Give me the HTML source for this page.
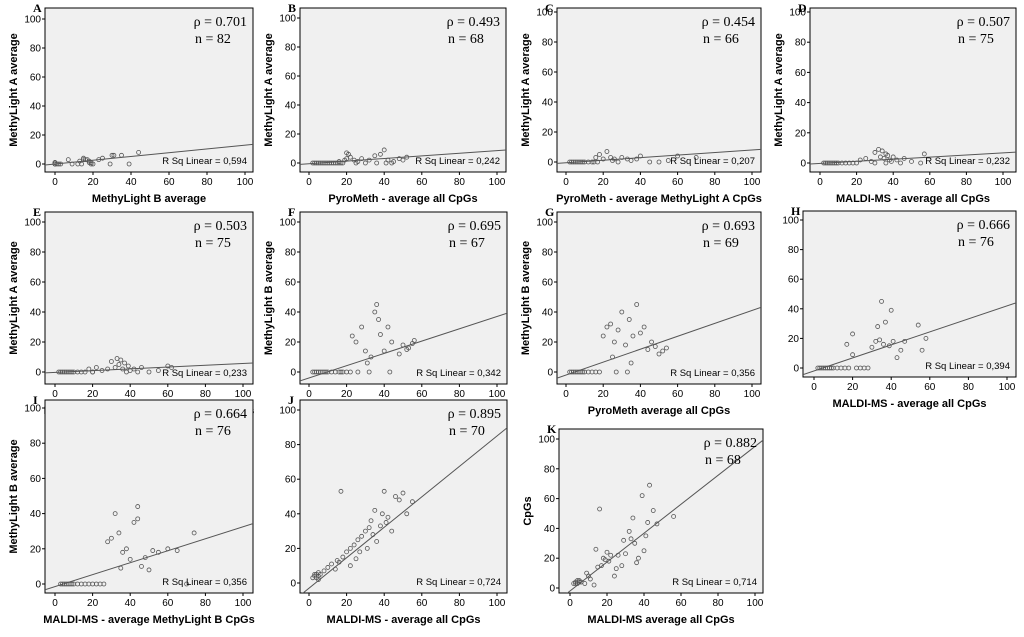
<!DOCTYPE html>
<html><head><meta charset="utf-8">
<style>
body{margin:0;background:#fff;width:1024px;height:632px;overflow:hidden}
svg text{font-family:"Liberation Sans",Arial,sans-serif}
.ser{font-family:"Liberation Serif",serif}
</style></head><body>
<svg id="fig" width="1024" height="632" viewBox="0 0 1024 632"></svg>
<script>
// Panel metadata
const panelLetters=["A","B","C","D","E","F","G","H","I","J","K"];
const rhoValues=["0.701","0.493","0.454","0.507","0.503","0.695","0.693","0.666","0.664","0.895","0.882"];
const nValues=[82,68,66,75,75,67,69,76,76,70,68];
const rsqValues=["0,594","0,242","0,207","0,232","0,233","0,342","0,356","0,394","0,356","0,724","0,714"];
const xLabels=["MethyLight B average","PyroMeth - average all CpGs","PyroMeth - average MethyLight A CpGs","MALDI-MS - average all CpGs","MALDI-MS - average MethyLight A CpGs","PyroMeth - average MethyLight B CpGs","PyroMeth average all CpGs","MALDI-MS - average all CpGs","MALDI-MS - average MethyLight B CpGs","MALDI-MS - average all CpGs","MALDI-MS average all CpGs"];
const yLabels=["MethyLight A average","MethyLight A average","MethyLight A average","MethyLight A average","MethyLight A average","MethyLight B average","MethyLight B average","","MethyLight B average","","CpGs"];
const slopes=[0.13,0.09,0.085,0.07,0.06,0.41,0.43,0.44,0.34,0.88,0.97];
const intercepts=[0,-0.5,-0.5,-0.3,-0.3,-4,-2,-2,-1.5,-3,-2];
const ticks=[0,20,40,60,80,100];
// point data per panel
const xA=[0,0,0,0,2,3,7,9,12,13,14,15,16,17,18,19,20,19,23,25,29,30,31,35,39,44,18,15,0,1];
const yA=[0,0,1,0,0,0,3,0,0,2,0,4,3,3,2,0,0,1,3,4,0,6,6,6,0,8,1,3,1,0];
const xB=[2,3,4,5,6,7,8,9,10,11,12,13,14,15,16,17,18,19,20,21,22,24,26,28,30,32,35,38,40,42,45,48,50,52,20,25,16,36,41,44];
const yB=[0,0,0,0,0,0,0,0,0,0,0,0,0,0,0,0,0,2,3,6,4,2,1,3,0,2,5,6,9,2,1,3,2,4,7,0,1,0,0,0];
const xC=[2,3,4,5,6,7,8,9,10,12,14,15,16,18,20,22,24,26,28,30,35,38,40,45,50,55,60,70,17,25,33];
const yC=[0,0,0,0,0,0,0,0,0,0,0,0,3,5,2,7,3,2,0,3,1,2,4,0,0,1,4,3,0,1,2];
const xD=[2,3,4,5,6,7,8,9,10,12,14,16,18,20,22,25,28,30,32,33,34,35,36,37,38,39,40,42,44,46,50,55,57,30,36];
const yD=[0,0,0,0,0,0,0,0,0,0,0,0,0,0,2,3,1,7,9,4,8,3,6,5,2,1,4,2,0,3,1,0,6,0,0];
const xE=[2,3,4,5,6,7,8,9,10,12,14,16,18,20,22,25,28,30,32,33,34,35,36,37,38,39,40,42,44,46,50,55,60,62,20];
const yE=[0,0,0,0,0,0,0,0,0,0,0,0,2,0,3,1,2,7,3,9,5,8,2,6,0,4,1,2,0,3,0,1,4,3,0];
const xF=[2,3,4,5,6,7,8,9,10,12,14,16,17,18,20,22,23,25,28,30,31,33,35,36,38,40,42,44,48,50,52,53,55,56,32,26,37,43];
const yF=[0,0,0,0,0,0,0,0,0,0,0,0,0,0,0,0,24,20,30,14,6,10,40,45,25,14,30,20,12,18,15,16,19,21,0,0,35,0];
const xG=[2,3,4,5,6,7,8,9,10,12,14,16,18,20,22,24,25,26,28,30,32,34,35,36,38,40,42,44,46,48,50,52,54,27,33];
const yG=[0,0,0,0,0,0,0,0,0,0,0,0,0,24,30,32,10,20,28,40,18,35,6,24,45,26,30,15,20,17,12,14,16,0,0];
const xH=[2,3,4,5,6,7,8,9,10,12,14,16,18,20,22,24,26,28,30,32,33,34,35,36,37,39,40,41,43,45,47,54,56,58,17,20];
const yH=[0,0,0,0,0,0,0,0,0,0,0,0,0,9,0,0,0,0,14,18,28,19,45,16,31,15,39,18,7,12,18,29,12,20,16,23];
const xI=[3,4,5,6,7,8,9,10,12,14,16,18,20,22,24,26,28,30,32,34,35,36,38,40,42,44,46,48,50,52,55,60,65,70,74,44];
const yI=[0,0,0,0,0,0,0,0,0,0,0,0,0,0,0,0,24,26,40,29,9,18,20,14,35,44,10,15,8,19,18,20,19,0,29,37];
const xJ=[2,3,3,4,4,5,5,6,8,10,12,14,15,16,18,20,22,24,25,26,28,30,31,32,33,34,35,36,38,39,40,41,42,44,46,48,50,52,55,5,17,22,27];
const yJ=[3,4,5,3,5,4,6,5,7,9,11,8,13,12,15,18,20,22,14,25,27,30,20,32,36,28,42,24,33,40,53,35,38,30,50,48,52,40,47,2,53,10,18];
const xK=[2,3,3,4,4,5,5,6,8,9,10,11,13,14,15,17,18,19,20,21,22,24,25,26,28,29,30,32,33,34,35,36,37,39,40,41,42,43,45,47,56,16];
const yK=[3,3,4,3,5,4,5,4,3,10,8,6,2,26,14,15,20,19,24,18,22,8,13,22,15,32,23,38,33,47,30,17,20,62,25,35,44,69,52,43,48,53];
const allX=[xA,xB,xC,xD,xE,xF,xG,xH,xI,xJ,xK];
const allY=[yA,yB,yC,yD,yE,yF,yG,yH,yI,yJ,yK];
const boxes=[[45,8,253,172],[300,8,506,172],[557,8,761,172],[810,8,1016,172],[45,212,253,384],[300,212,507,384],[557,212,761,384],[803,211,1016,377],[45,400,253,593],[300,400,507,593],[559,429,763,593]];
const axes=[[55,245,164,19],[309,497,163,18],[566,752,162,12],[820,1003,163,12],[55,243,372,222],[309,497,372,222],[566,752,372,222],[814,1007,368,220],[55,243,584,408],[309,497,583,410],[570,755,588,439]];

const NS="http://www.w3.org/2000/svg",svg=document.getElementById("fig");
function mk(tag,attrs,parent,txt){const e=document.createElementNS(NS,tag);for(const k in attrs)e.setAttribute(k,attrs[k]);if(txt!==undefined)e.textContent=txt;(parent||svg).appendChild(e);return e;}
panelLetters.forEach((L,i)=>{
  const [l,t,r,b]=boxes[i],[x0,x100,y0,y100]=axes[i];
  const sx=v=>x0+(x100-x0)*v/100, sy=v=>y0+(y100-y0)*v/100;
  const g=mk("g",{});
  
  
  const rect=mk("rect",{x:l,y:t,width:r-l,height:b-t,fill:"#f0f0f0",stroke:"#000","stroke-width":1},g);
  
  
  ticks.forEach(tv=>{
    mk("line",{x1:sx(tv),x2:sx(tv),y1:b,y2:b+3,stroke:"#000"},g);
    const xt=mk("text",{x:sx(tv),y:b+13,"font-size":10,"text-anchor":"middle"},g,tv);
    
    
    mk("line",{x1:l-3,x2:l,y1:sy(tv),y2:sy(tv),stroke:"#000"},g);
    const yt=mk("text",{x:l-4,y:sy(tv)+3.5,"font-size":10,"text-anchor":"end"},g,tv);
    
    
  });
  const cp=mk("clipPath",{id:"c"+i},g);mk("rect",{x:l,y:t,width:r-l,height:b-t},cp);
  const pg=mk("g",{"clip-path":"url(#c"+i+")"},g);
  const xa=(l-x0)/(x100-x0)*100, xb=(r-x0)/(x100-x0)*100;
  const ln=mk("line",{x1:sx(xa),y1:sy(intercepts[i]+slopes[i]*xa),x2:sx(xb),y2:sy(intercepts[i]+slopes[i]*xb),stroke:"#555","stroke-width":1},pg);
  
  
  allX[i].forEach((xv,j)=>{
    const c=mk("circle",{cx:sx(xv),cy:sy(allY[i][j]),r:2,fill:"none",stroke:"#555","stroke-width":0.8},pg);
    
    
  });
  const lt=mk("text",{x:l-12,y:t+4,"font-size":12,"font-weight":"bold",class:"ser"},g,L);
  
  
  const rt=mk("text",{x:r-6,y:t+18,"font-size":14,"text-anchor":"end",class:"ser"},g,"ρ = "+rhoValues[i]);
  
  
  const nt=mk("text",{x:r-58,y:t+35,"font-size":14,class:"ser"},g,"n = "+nValues[i]);
  
  
  const rs=mk("text",{x:r-6,y:b-8,"font-size":9.5,"text-anchor":"end"},g,"R Sq Linear = "+rsqValues[i]);
  
  
  const xl=mk("text",{x:(l+r)/2,y:b+30,"font-size":11,"font-weight":"bold","text-anchor":"middle"},g,xLabels[i]);
  
  
  if(yLabels[i]){
    const cy=(t+b)/2;
    const yl=mk("text",{x:l-28,y:cy,"font-size":11,"font-weight":"bold","text-anchor":"middle",transform:"rotate(-90 "+(l-28)+" "+cy+")"},g,yLabels[i]);
    
    
  }
});
</script>
</body></html>
